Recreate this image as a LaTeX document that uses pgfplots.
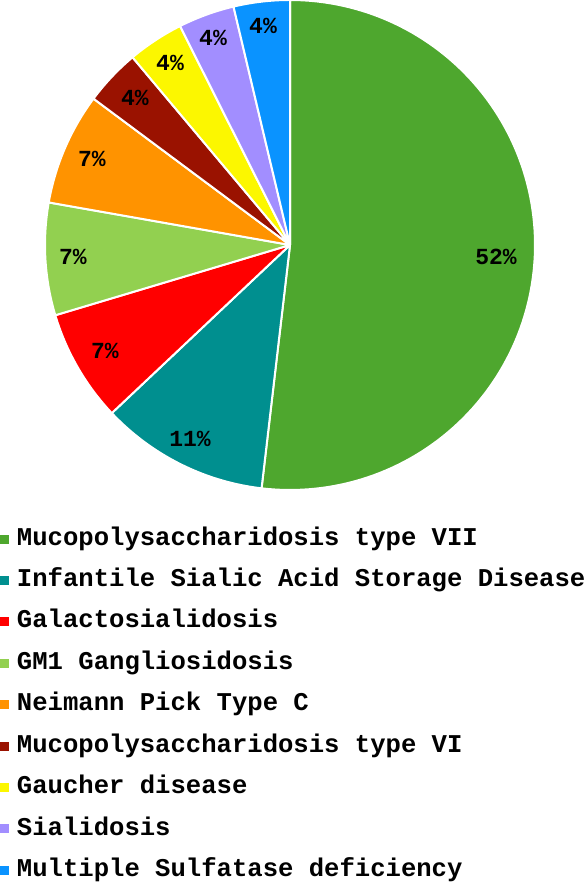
\documentclass[border=0pt]{standalone}
\usepackage{fontspec}
\setmainfont{Liberation Mono}
\usepackage{pgfplots}
\pgfplotsset{compat=1.18}
\definecolor{cA}{HTML}{4EA72E}
\definecolor{cB}{HTML}{008F8F}
\definecolor{cC}{HTML}{FF0000}
\definecolor{cD}{HTML}{92D050}
\definecolor{cE}{HTML}{FF9300}
\definecolor{cF}{HTML}{9A1200}
\definecolor{cG}{HTML}{FCF700}
\definecolor{cH}{HTML}{A28EFF}
\definecolor{cI}{HTML}{0A93FF}
\begin{document}
\begin{tikzpicture}
\begin{axis}[
  name=ax,
  x=1pt, y=1pt, scale only axis,
  xmin=-290, xmax=298, ymin=-637, ymax=245,
  hide axis, clip=false,
  legend cell align=left,
  legend image code/.code={\fill[draw=none] (0pt,-4.5pt) rectangle (9pt,4.5pt);},
  legend style={draw=none, fill=none, at={(axis cs:-290,-273.5)}, anchor=north west,
    font=\bfseries\fontsize{25.6}{30}\selectfont,
    inner sep=0pt, outer sep=0pt, row sep=0pt,
    nodes={inner xsep=0pt, inner ysep=8.7pt, text height=18pt, text depth=6pt},
    /tikz/every odd column/.style={column sep=8pt}},
]
% counts (of 27): 14,3,2,2,2,1,1,1,1 ; slices clockwise from 90 deg
\addplot[fill=cA, draw=white, line width=2pt, line join=round, domain=-96.667:90, samples=120, variable=\t] ({245*cos(\t)},{245*sin(\t)}) -- (axis cs:0,0) -- cycle;
\addlegendentry{Mucopolysaccharidosis type VII}
\addplot[fill=cB, draw=white, line width=2pt, line join=round, domain=-136.667:-96.667, samples=40, variable=\t] ({245*cos(\t)},{245*sin(\t)}) -- (axis cs:0,0) -- cycle;
\addlegendentry{Infantile Sialic Acid Storage Disease}
\addplot[fill=cC, draw=white, line width=2pt, line join=round, domain=-163.333:-136.667, samples=30, variable=\t] ({245*cos(\t)},{245*sin(\t)}) -- (axis cs:0,0) -- cycle;
\addlegendentry{Galactosialidosis}
\addplot[fill=cD, draw=white, line width=2pt, line join=round, domain=-190:-163.333, samples=30, variable=\t] ({245*cos(\t)},{245*sin(\t)}) -- (axis cs:0,0) -- cycle;
\addlegendentry{GM1 Gangliosidosis}
\addplot[fill=cE, draw=white, line width=2pt, line join=round, domain=-216.667:-190, samples=30, variable=\t] ({245*cos(\t)},{245*sin(\t)}) -- (axis cs:0,0) -- cycle;
\addlegendentry{Neimann Pick Type C}
\addplot[fill=cF, draw=white, line width=2pt, line join=round, domain=-230:-216.667, samples=20, variable=\t] ({245*cos(\t)},{245*sin(\t)}) -- (axis cs:0,0) -- cycle;
\addlegendentry{Mucopolysaccharidosis type VI}
\addplot[fill=cG, draw=white, line width=2pt, line join=round, domain=-243.333:-230, samples=20, variable=\t] ({245*cos(\t)},{245*sin(\t)}) -- (axis cs:0,0) -- cycle;
\addlegendentry{Gaucher disease}
\addplot[fill=cH, draw=white, line width=2pt, line join=round, domain=-256.667:-243.333, samples=20, variable=\t] ({245*cos(\t)},{245*sin(\t)}) -- (axis cs:0,0) -- cycle;
\addlegendentry{Sialidosis}
\addplot[fill=cI, draw=white, line width=2pt, line join=round, domain=-270:-256.667, samples=20, variable=\t] ({245*cos(\t)},{245*sin(\t)}) -- (axis cs:0,0) -- cycle;
\addlegendentry{Multiple Sulfatase deficiency}
% slice labels
\addplot[draw=none, mark=none, forget plot, nodes near coords, nodes near coords align=center,
  point meta=explicit symbolic,
  every node near coord/.append style={font=\bfseries\fontsize{23}{27}\selectfont, text=black, anchor=center, inner sep=0pt}]
  table[meta=lab] {
x y lab
206 -12 52\%
-100 -194 11\%
-185 -106 7\%
-217 -12 7\%
-198 86 7\%
-155 147 4\%
-120 182 4\%
-77 207 4\%
-27 219 4\%
};
\end{axis}
\pgfresetboundingbox
\useasboundingbox (ax.south west) rectangle (ax.north east);
\end{tikzpicture}
\end{document}
